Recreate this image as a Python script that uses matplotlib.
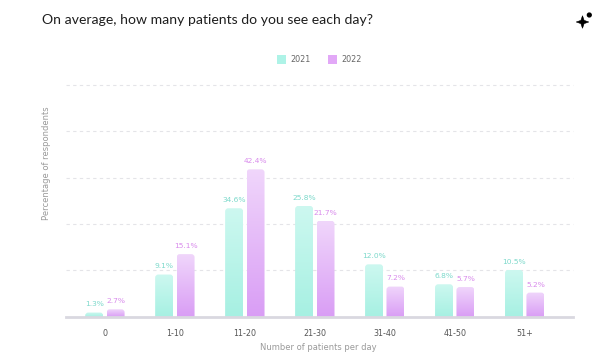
import numpy as np
import matplotlib
matplotlib.use("Agg")
import matplotlib.pyplot as plt
from matplotlib.patches import FancyBboxPatch, Rectangle, Polygon, Ellipse
from matplotlib.colors import LinearSegmentedColormap

categories = ["0", "1-10", "11-20", "21-30", "31-40", "41-50", "51+"]
series_names = ["2021", "2022"]
values_2021 = [0.9, 9.1, 23.4, 23.9, 11.3, 7.0, 10.1]
values_2022 = [1.6, 13.5, 31.8, 20.7, 6.5, 6.4, 5.2]
# data labels as printed on the chart
labels_2021 = ["1.3%", "9.1%", "34.6%", "25.8%", "12.0%", "6.8%", "10.5%"]
labels_2022 = ["2.7%", "15.1%", "42.4%", "21.7%", "7.2%", "5.7%", "5.2%"]

W, H = 600, 355
fig = plt.figure(figsize=(6, 3.55), dpi=100)
fig.patch.set_facecolor("white")

ax_l, ax_r, ax_b, ax_t = 65.7, 573, 316.7, 85
ax = fig.add_axes([ax_l / W, 1 - ax_b / H, (ax_r - ax_l) / W, (ax_b - ax_t) / H])
ax.set_xlim(-0.56, 6.69)
ax.set_ylim(0, 50)
for s in ax.spines.values():
    s.set_visible(False)
ax.set_xticks(range(len(categories)))
ax.set_xticklabels(categories, fontsize=5.8, color="#555555")
ax.tick_params(axis="x", length=0, pad=9)
ax.set_yticks([])

for g in [10, 20, 30, 40, 50]:
    ax.axhline(g, color="#e4e4e8", lw=0.8, ls=(0, (3, 3)), zorder=0, clip_on=False)
ax.axhline(0, color="#d9d8e0", lw=2, zorder=5, clip_on=False)

cm21 = LinearSegmentedColormap.from_list("c21", ["#a6f0e2", "#cdf8f0"])
cm22 = LinearSegmentedColormap.from_list("c22", ["#d99df5", "#f0d6fb"])

bw = 0.257
off = 0.153
xs = np.arange(len(categories))
aspect = (1 / 4.63) / (1 / 70.0)
grad = np.linspace(0, 1, 256).reshape(-1, 1)

for vals, labs, cmap, sign, tcol in [
    (values_2021, labels_2021, cm21, -1, "#7dd9cb"),
    (values_2022, labels_2022, cm22, 1, "#d98cec"),
]:
    for x, v, lab in zip(xs, vals, labs):
        x0 = x + sign * off - bw / 2
        patch = FancyBboxPatch((x0, -1.5), bw, v + 1.5,
                               boxstyle="round,pad=0,rounding_size=0.045",
                               mutation_aspect=aspect, facecolor="none",
                               edgecolor="none", transform=ax.transData)
        ax.add_patch(patch)
        im = ax.imshow(grad, cmap=cmap, origin="lower", aspect="auto",
                       extent=(x0, x0 + bw, 0, v), zorder=2)
        im.set_clip_path(patch)
        ax.text(x + sign * off, v + 1.1, lab, ha="center", va="bottom",
                fontsize=5.4, color=tcol)

ax.set_xlim(-0.56, 6.69)
ax.set_ylim(0, 50)

fig.text(41.5 / W, 1 - 20 / H, "On average, how many patients do you see each day?",
         fontsize=10.1, family="Lato", color="#1e1e1e", va="center", ha="left")

# legend
for xq, name, col in [(277, "2021", "#aef3e7"), (328, "2022", "#e2a8f7")]:
    fig.patches.append(Rectangle((xq / W, 1 - 63.5 / H), 8.5 / W, 8.5 / H,
                                 transform=fig.transFigure, facecolor=col,
                                 edgecolor="none"))
    fig.text((xq + 13) / W, 1 - 59 / H, name, fontsize=5.8, color="#666666",
             va="center", ha="left")

fig.text(46.5 / W, 1 - 163 / H, "Percentage of respondents", rotation=90,
         fontsize=6, color="#9a9a9a", ha="center", va="center")
fig.text(318 / W, 1 - 348 / H, "Number of patients per day",
         fontsize=6, color="#9a9a9a", ha="center", va="center")

# sparkle icon (four-pointed star and dot)
cx, cy = 582.5, 22.0
pts = []
for k in range(8):
    ang = np.pi / 2 + k * np.pi / 4
    r = 6.3 if k % 2 == 0 else 2.3
    pts.append(((cx + r * np.cos(ang)) / W, 1 - (cy - r * np.sin(ang)) / H))
fig.patches.append(Polygon(pts, closed=True, transform=fig.transFigure,
                           facecolor="black", edgecolor="black", lw=0.4))
fig.patches.append(Ellipse((589.3 / W, 1 - 15 / H), 3.8 / W, 3.8 / H,
                           transform=fig.transFigure, color="black"))

fig.savefig("out.png", dpi=100, facecolor="white")
